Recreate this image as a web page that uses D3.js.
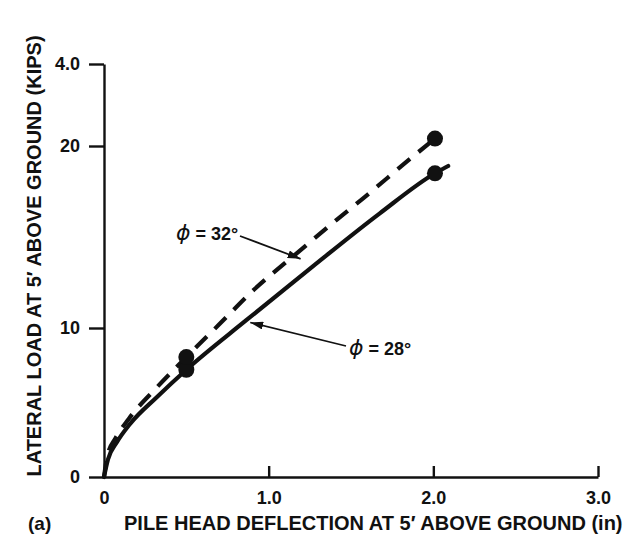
<!DOCTYPE html>
<html>
<head>
<meta charset="utf-8">
<script src="https://cdn.jsdelivr.net/npm/d3@7"></script>
<style>
  body { margin: 0; background: #fff; }
  svg { display: block; }
  text { font-family: "Liberation Sans", Arial, sans-serif; font-weight: bold; fill: #111; }
</style>
</head>
<body>
<svg id="chart" width="630" height="550"></svg>
<script>
// axis ticks as printed on the figure
var xTicks = [0, 1, 2, 3];
var xTickLabels = ['0', '1.0', '2.0', '3.0'];
var yTicks = [0, 10, 20, 30];
var yTickLabels = ['0', '10', '20', '4.0'];

// phi = 28 deg curve (solid)
var defl28 = [0, 0.024, 0.079, 0.158, 0.322, 0.5, 0.866, 1.27, 1.675, 2.01, 2.09];
var load28 = [0, 1.17, 2.35, 3.56, 5.37, 7.2, 10.44, 13.4, 16.3, 18.5, 18.9];

// phi = 32 deg curve (dashed)
var defl32 = [0, 0.02, 0.07, 0.15, 0.32, 0.5, 0.7, 0.91, 1.17, 1.42, 1.57, 1.86, 2.01];
var load32 = [0, 1.4, 2.6, 3.9, 6.0, 8.05, 10.2, 12.1, 14.1, 16.0, 17.1, 19.3, 20.9];

// computed points (dots)
var dotDefl28 = [0.5, 2.01];
var dotLoad28 = [7.2, 18.5];
var dotDefl32 = [0.5, 2.01];
var dotLoad32 = [8.05, 20.9];

document.addEventListener("DOMContentLoaded", function() {
  var svg = d3.select('#chart');

  // the scanned axis is not evenly spaced, so the y scale is piecewise
  var x = d3.scaleLinear().domain([0, 3]).range([104, 598]);
  var y = d3.scaleLinear().domain([0, 10, 20, 30]).range([477, 328, 146, 64]);

  // y axis, ticks pointing outward
  var yAxis = svg.append('g')
    .attr('transform', 'translate(' + x(0) + ',0)')
    .call(d3.axisLeft(y)
      .tickValues(yTicks)
      .tickFormat(function(d, i) { return yTickLabels[i]; })
      .tickSizeInner(15)
      .tickSizeOuter(0)
      .tickPadding(9));

  // x axis, ticks pointing up into the plot
  var xAxis = svg.append('g')
    .attr('transform', 'translate(0,' + y(0) + ')')
    .call(d3.axisBottom(x)
      .tickValues(xTicks)
      .tickFormat(function(d, i) { return xTickLabels[i]; })
      .tickSizeInner(-11)
      .tickSizeOuter(0)
      .tickPadding(14));

  svg.selectAll('.domain, .tick line')
    .attr('stroke', '#111')
    .attr('stroke-width', 2.4);
  svg.selectAll('.tick text')
    .attr('font-size', '18px')
    .attr('font-weight', 'bold')
    .attr('font-family', '"Liberation Sans", Arial, sans-serif')
    .attr('fill', '#111');
  // the origin label on x sits under the axis corner, no tick there
  xAxis.selectAll('.tick').filter(function(d) { return d === 0; }).select('line').remove();

  // axis titles
  svg.append('text')
    .attr('transform', 'translate(41,256) rotate(-90)')
    .attr('text-anchor', 'middle')
    .attr('font-size', '20px')
    .text("LATERAL LOAD AT 5\u2032 ABOVE GROUND (KIPS)");

  svg.append('text')
    .attr('x', 124)
    .attr('y', 530)
    .attr('font-size', '20px')
    .text("PILE HEAD DEFLECTION AT 5\u2032 ABOVE GROUND (in)");

  svg.append('text')
    .attr('x', 28)
    .attr('y', 530)
    .attr('font-size', '19px')
    .text('(a)');

  var line = d3.line()
    .x(function(d) { return x(d[0]); })
    .y(function(d) { return y(d[1]); })
    .curve(d3.curveMonotoneX);

  svg.append('path')
    .datum(d3.zip(defl28, load28))
    .attr('d', line)
    .attr('fill', 'none')
    .attr('stroke', '#111')
    .attr('stroke-width', 4.2)
    .attr('stroke-linecap', 'round');

  svg.append('path')
    .datum(d3.zip(defl32, load32))
    .attr('d', line)
    .attr('fill', 'none')
    .attr('stroke', '#111')
    .attr('stroke-width', 4.2)
    .attr('stroke-dasharray', '16,11');

  // dots
  svg.selectAll('.dot28')
    .data(d3.zip(dotDefl28, dotLoad28))
    .enter()
    .append('circle')
    .attr('class', 'dot28')
    .attr('cx', function(d) { return x(d[0]); })
    .attr('cy', function(d) { return y(d[1]); })
    .attr('r', 8)
    .attr('fill', '#111');

  svg.selectAll('.dot32')
    .data(d3.zip(dotDefl32, dotLoad32))
    .enter()
    .append('circle')
    .attr('class', 'dot32')
    .attr('cx', function(d) { return x(d[0]); })
    .attr('cy', function(d) { return y(d[1]); })
    .attr('r', 8)
    .attr('fill', '#111');

  // arrow marker
  svg.append('defs').append('marker')
    .attr('id', 'arrow')
    .attr('viewBox', '0 0 13 8')
    .attr('refX', 13)
    .attr('refY', 4)
    .attr('markerWidth', 13)
    .attr('markerHeight', 8)
    .attr('markerUnits', 'userSpaceOnUse')
    .attr('orient', 'auto')
    .append('path')
    .attr('d', 'M0,0L13,4L0,8Z')
    .attr('fill', '#111');

  // annotations: label position and the point on the curve the arrow hits
  var notes = [
    { angle: '32', lx: 176, ly: 240, ax: 240, ay: 236, tx: 1.2, ty: 13.8 },
    { angle: '28', lx: 349, ly: 355, ax: 346, ay: 346, tx: 0.87, ty: 10.3 }
  ];

  notes.forEach(function(n) {
    var t = svg.append('text')
      .attr('x', n.lx)
      .attr('y', n.ly)
      .attr('font-size', '18px');
    t.append('tspan')
      .attr('font-style', 'italic')
      .attr('font-weight', 'normal')
      .attr('font-size', '22px')
      .attr('font-family', '"DejaVu Sans", sans-serif')
      .text('\u03d5');
    t.append('tspan')
      .text(' = ' + n.angle + '\u00b0');
    svg.append('line')
      .attr('x1', n.ax)
      .attr('y1', n.ay)
      .attr('x2', x(n.tx) + (n.tx > 1 ? -1 : 3))
      .attr('y2', y(n.ty))
      .attr('stroke', '#111')
      .attr('stroke-width', 1.7)
      .attr('marker-end', 'url(#arrow)');
  });
});
</script>
</body>
</html>
